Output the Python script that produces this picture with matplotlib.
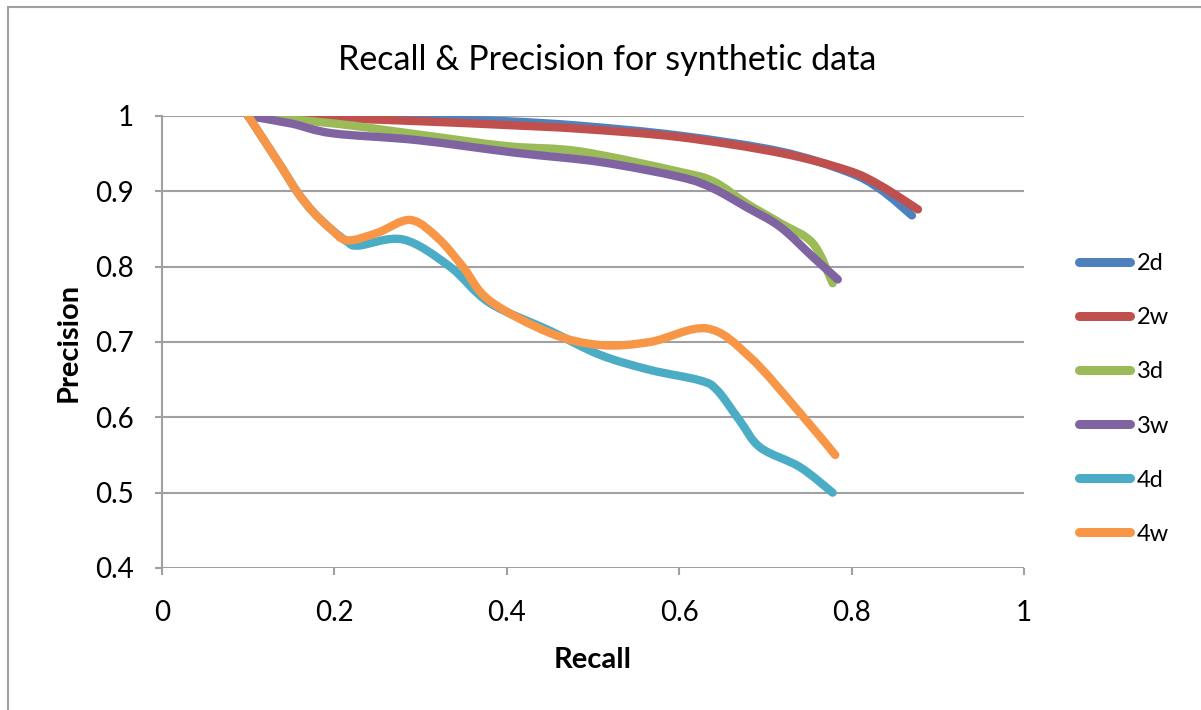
import matplotlib.pyplot as plt
from matplotlib.lines import Line2D
from matplotlib.patches import PathPatch, Rectangle
from matplotlib.path import Path

plt.rcParams["font.family"] = ["Lato", "DejaVu Sans"]

labels = ["2d", "2w", "3d", "3w", "4d", "4w"]
colors = ["#4f81bd", "#c0504d", "#9bbb59", "#8064a2", "#4bacc6", "#f79646"]

recall_2d = [0.10, 0.20, 0.30, 0.40, 0.485, 0.60, 0.717, 0.795, 0.833, 0.870]
prec_2d = [1.0, 0.998, 0.996, 0.993, 0.987, 0.974, 0.953, 0.926, 0.903, 0.868]

recall_2w = [0.10, 0.20, 0.30, 0.40, 0.485, 0.60, 0.717, 0.795, 0.833, 0.877]
prec_2w = [1.0, 0.997, 0.993, 0.988, 0.983, 0.972, 0.951, 0.928, 0.908, 0.876]

recall_3d = [0.10, 0.20, 0.30, 0.40, 0.485, 0.60, 0.64, 0.678, 0.717, 0.755, 0.778]
prec_3d = [1.0, 0.990, 0.975, 0.960, 0.953, 0.926, 0.913, 0.884, 0.858, 0.831, 0.778]

recall_3w = [0.10, 0.15, 0.198, 0.296, 0.412, 0.508, 0.601, 0.639, 0.678, 0.717, 0.755, 0.784]
prec_3w = [1.0, 0.99, 0.977, 0.968, 0.951, 0.939, 0.919, 0.904, 0.879, 0.853, 0.813, 0.783]

recall_4d = [0.10, 0.137, 0.157, 0.175, 0.195, 0.215, 0.228, 0.28, 0.334, 0.38, 0.45,
             0.508, 0.566, 0.624, 0.644, 0.67, 0.694, 0.74, 0.778]
prec_4d = [1.0, 0.935, 0.899, 0.873, 0.851, 0.833, 0.828, 0.836, 0.80, 0.752, 0.715,
           0.683, 0.663, 0.649, 0.636, 0.596, 0.56, 0.534, 0.50]

recall_4w = [0.10, 0.137, 0.157, 0.175, 0.195, 0.215, 0.25, 0.288, 0.32, 0.349, 0.38,
             0.45, 0.508, 0.566, 0.632, 0.682, 0.74, 0.781]
prec_4w = [1.0, 0.935, 0.899, 0.873, 0.851, 0.835, 0.845, 0.862, 0.838, 0.80, 0.755,
           0.712, 0.696, 0.70, 0.718, 0.68, 0.606, 0.55]

series = [(recall_2d, prec_2d), (recall_2w, prec_2w), (recall_3d, prec_3d),
          (recall_3w, prec_3w), (recall_4d, prec_4d), (recall_4w, prec_4w)]


def smooth_path(xs, ys):
    # Excel-style smoothed line: cubic Bezier through the points (Catmull-Rom tangents)
    pts = list(zip(xs, ys))
    verts = [pts[0]]
    codes = [Path.MOVETO]
    n = len(pts)
    for i in range(n - 1):
        p0 = pts[max(i - 1, 0)]
        p1 = pts[i]
        p2 = pts[i + 1]
        p3 = pts[min(i + 2, n - 1)]
        c1 = (p1[0] + (p2[0] - p0[0]) / 6, p1[1] + (p2[1] - p0[1]) / 6)
        c2 = (p2[0] - (p3[0] - p1[0]) / 6, p2[1] - (p3[1] - p1[1]) / 6)
        verts += [c1, c2, p2]
        codes += [Path.CURVE4] * 3
    return Path(verts, codes)


fig = plt.figure(figsize=(12.01, 7.10), dpi=100)
ax = fig.add_axes([162 / 1201, 1 - 568 / 710, (1024 - 162) / 1201, (568 - 116) / 710])

# outer chart border (only top and left edges are visible in the reference)
fig.add_artist(Rectangle((8 / 1201, -0.1), 1.2, 1 - 7 / 710 + 0.1, transform=fig.transFigure,
                         fill=False, edgecolor="#a0a0a0", linewidth=1.5))

handles = []
for (x, y), lab, c in zip(series, labels, colors):
    ax.add_patch(PathPatch(smooth_path(x, y), fill=False, edgecolor=c, linewidth=6.0,
                           joinstyle="round", capstyle="round"))
    handles.append(Line2D([], [], color=c, linewidth=6.5, solid_capstyle="round", label=lab))

ax.set_xlim(0, 1)
ax.set_ylim(0.4, 1)
ax.set_xticks([0, 0.2, 0.4, 0.6, 0.8, 1])
ax.set_xticklabels(["0", "0.2", "0.4", "0.6", "0.8", "1"])
ax.set_yticks([0.4, 0.5, 0.6, 0.7, 0.8, 0.9, 1])
ax.set_yticklabels(["0.4", "0.5", "0.6", "0.7", "0.8", "0.9", "1"])
ax.grid(axis="y", color="#a0a0a0", linewidth=1.5)
ax.set_axisbelow(True)
for s in ["top", "right", "bottom"]:
    ax.spines[s].set_visible(False)
ax.spines["left"].set_color("#a0a0a0")
ax.spines["left"].set_linewidth(1.5)
ax.tick_params(axis="both", colors="#a0a0a0", labelcolor="black", labelsize=20,
               length=5, width=1.5)
ax.tick_params(axis="x", pad=18)
ax.tick_params(axis="y", pad=15)

ax.set_xlabel("Recall", fontsize=21, fontweight="bold", labelpad=15)
ax.set_ylabel("Precision", fontsize=21, fontweight="bold", labelpad=10)
fig.text(607 / 1201, 1 - 60 / 710, "Recall & Precision for synthetic data",
         fontsize=24.5, ha="center", va="center")

leg = fig.legend(handles=handles, loc="center left",
                 bbox_to_anchor=(1058 / 1201, 1 - 399 / 710),
                 frameon=False, fontsize=17, handlelength=2.15, handletextpad=0.3,
                 labelspacing=1.4)

fig.savefig("out.png", dpi=100)
